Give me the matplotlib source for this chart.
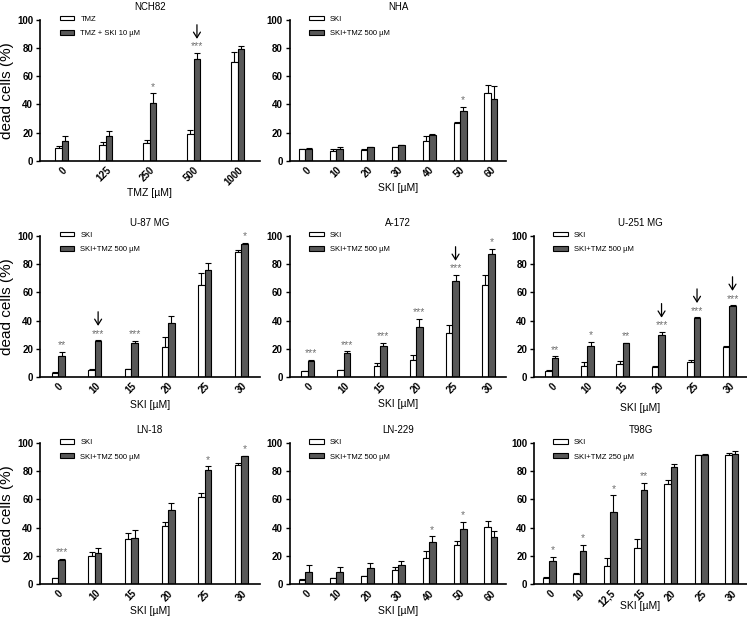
import numpy as np
import matplotlib.pyplot as plt
from matplotlib.patches import Patch

plt.rcParams['font.family'] = ['Liberation Sans', 'DejaVu Sans']

# NCH82
nch82_x = ['0', '125', '250', '500', '1000']
nch82_a = [9.2, 11, 12.8, 19, 70.4]
nch82_a_err = [1.5, 2.5, 2, 3, 7]
nch82_b = [14, 18, 41, 72, 79.4]
nch82_b_err = [4, 3.5, 7, 4.5, 2]
nch82_sig = ['', '', '*', '***', '']
nch82_arrows = [3]

# NHA
nha_x = ['0', '10', '20', '30', '40', '50', '60']
nha_a = [8.4, 7.2, 7.9, 9.6, 14.4, 27, 47.8]
nha_a_err = [0.3, 1.5, 0.5, 0.5, 3, 0.3, 6]
nha_b = [8.6, 8.6, 9.6, 11, 18.7, 35.4, 43.8]
nha_b_err = [0.3, 1.5, 0.5, 0.3, 0.5, 3, 9]
nha_sig = ['', '', '', '', '', '*', '']
nha_arrows = []

# U-87 MG
u87_x = ['0', '10', '15', '20', '25', '30']
u87_a = [3.1, 5.2, 5.5, 21, 65.5, 88.6]
u87_a_err = [0.3, 0.3, 0.3, 7, 8, 1.5]
u87_b = [14.8, 25.7, 23.8, 38, 75.7, 94.5]
u87_b_err = [3, 0.5, 2, 5, 5, 0.5]
u87_sig = ['**', '***', '***', '', '', '*']
u87_arrows = [1]

# A-172
a172_x = ['0', '10', '15', '20', '25', '30']
a172_a = [4, 4.8, 7.6, 11.9, 31, 65.2]
a172_a_err = [0.3, 0.3, 2, 4, 6, 7]
a172_b = [11.2, 16.7, 21.9, 35.2, 68.3, 87]
a172_b_err = [1, 1.5, 2.5, 6, 4, 4]
a172_sig = ['***', '***', '***', '***', '***', '*']
a172_arrows = [4]

# U-251 MG
u251_x = ['0', '10', '15', '20', '25', '30']
u251_a = [4.3, 7.6, 9, 7.4, 10.7, 21.4]
u251_a_err = [0.5, 3, 2.5, 0.5, 1.5, 0.5]
u251_b = [13.1, 22.1, 24, 30, 42.1, 50]
u251_b_err = [1.5, 3, 0.3, 2, 0.3, 1]
u251_sig = ['**', '*', '**', '***', '***', '***']
u251_arrows = [3, 4, 5]

# LN-18
ln18_x = ['0', '10', '15', '20', '25', '30']
ln18_a = [4, 20.1, 32, 41, 61.6, 84.6]
ln18_a_err = [0.5, 2.5, 4.5, 3, 3, 1.5]
ln18_b = [17.3, 21.8, 32.5, 52.1, 80.6, 90.5]
ln18_b_err = [0.5, 3.5, 5.5, 5, 3, 0.5]
ln18_sig = ['***', '', '', '', '*', '*']
ln18_arrows = []

# LN-229
ln229_x = ['0', '10', '20', '30', '40', '50', '60']
ln229_a = [3.1, 4, 5.5, 10.2, 18.6, 27.9, 40.5]
ln229_a_err = [0.5, 0.3, 0.3, 1.7, 4.8, 2.4, 4]
ln229_b = [8.8, 8.3, 11.2, 13.6, 29.8, 38.8, 33.3]
ln229_b_err = [4.8, 4, 3.8, 3, 4, 5.2, 4.3]
ln229_sig = ['', '', '', '', '*', '*', '']
ln229_arrows = []

# T98G
t98g_x = ['0', '10', '12,5', '15', '20', '25', '30']
t98g_a = [4.5, 6.9, 13, 25.4, 71.1, 91.2, 91.5]
t98g_a_err = [0.5, 1.2, 5.2, 6.6, 2.8, 0.5, 1.4]
t98g_b = [16.4, 23.7, 51, 66.8, 82.7, 91.7, 92.2]
t98g_b_err = [3, 4, 11.8, 4.8, 2.6, 0.5, 1.8]
t98g_sig = ['*', '*', '*', '**', '', '', '']
t98g_arrows = []

W, H = 747, 619
fig = plt.figure(figsize=(W / 100, H / 100), dpi=100)

dark = '#585858'


def panel(rect, title, xs, a, a_err, b, b_err, sig, arrows, labels, xlabel, ylabel, xlab_off):
    ax = fig.add_axes(rect)
    n = len(xs)
    pos = np.arange(n)
    unit_px = rect[2] * W / n
    w = 6.5 / unit_px
    ax.bar(pos - w / 2, a, w, color='white', edgecolor='black', linewidth=0.8, zorder=2)
    ax.bar(pos + w / 2, b, w, color=dark, edgecolor='black', linewidth=0.8, zorder=2)
    ax.errorbar(pos - w / 2, a, yerr=[np.zeros(n), a_err], fmt='none', ecolor='black',
                elinewidth=0.8, capsize=2, capthick=0.8, zorder=1)
    ax.errorbar(pos + w / 2, b, yerr=[np.zeros(n), b_err], fmt='none', ecolor='black',
                elinewidth=0.8, capsize=2, capthick=0.8, zorder=1)
    for i, s in enumerate(sig):
        top = b[i] + b_err[i]
        if s:
            ax.text(pos[i] + w / 2, top + 1.0, s, ha='center', va='bottom', fontsize=7.5,
                    color='#707070', clip_on=False)
        if i in arrows:
            ax.annotate('', xy=(pos[i] + w / 2, top + 10), xytext=(pos[i] + w / 2, top + 20),
                        arrowprops=dict(arrowstyle='->,head_length=0.4,head_width=0.25',
                                        color='black', lw=0.9, shrinkA=0, shrinkB=0),
                        annotation_clip=False)

    ax.set_xlim(-0.5, n - 0.5)
    ax.set_ylim(0, 100)
    ax.set_yticks([0, 20, 40, 60, 80, 100])
    ax.set_xticks(pos)
    ax.set_xticklabels(xs, rotation=45, ha='right', va='top', rotation_mode='anchor',
                       fontsize=7, fontweight='bold')
    for t in ax.get_yticklabels():
        t.set_fontsize(7)
        t.set_fontweight('bold')
    ax.tick_params(axis='y', direction='out', length=3, width=1, pad=2)
    ax.tick_params(axis='x', length=0, pad=3)
    for s in ['top', 'right']:
        ax.spines[s].set_visible(False)
    for s in ['left', 'bottom']:
        ax.spines[s].set_linewidth(1.2)
    ax.set_title(title, fontsize=7, pad=7)
    ax.set_xlabel(xlabel, fontsize=7.5, va='center')
    ax.xaxis.set_label_coords(0.5, -xlab_off / (rect[3] * H))
    if ylabel:
        ax.set_ylabel('dead cells (%)', fontsize=11, labelpad=2)
    handles = [Patch(facecolor='white', edgecolor='black', linewidth=0.8),
               Patch(facecolor=dark, edgecolor='black', linewidth=0.8)]
    ax.legend(handles, labels, loc='upper left', bbox_to_anchor=(0.09, 1.03), frameon=False,
              fontsize=5.5, handlelength=1.9, handleheight=0.6, handletextpad=0.8,
              labelspacing=1.0, borderpad=0, borderaxespad=0)
    return ax


h = 0.228
rows = [0.740, 0.391, 0.0565]
cols = [(0.0535, 0.294), (0.388, 0.29), (0.715, 0.285)]

lab_std = ['SKI', 'SKI+TMZ 500 µM']

panel([cols[0][0], rows[0], cols[0][1], h], 'NCH82', nch82_x, nch82_a, nch82_a_err,
      nch82_b, nch82_b_err, nch82_sig, nch82_arrows, ['TMZ', 'TMZ + SKI 10 µM'],
      'TMZ [µM]', True, 32)
panel([cols[1][0], rows[0], cols[1][1], h], 'NHA', nha_x, nha_a, nha_a_err,
      nha_b, nha_b_err, nha_sig, nha_arrows, lab_std, 'SKI [µM]', False, 27)
panel([cols[0][0], rows[1], cols[0][1], h], 'U-87 MG', u87_x, u87_a, u87_a_err,
      u87_b, u87_b_err, u87_sig, u87_arrows, lab_std, 'SKI [µM]', True, 28)
panel([cols[1][0], rows[1], cols[1][1], h], 'A-172', a172_x, a172_a, a172_a_err,
      a172_b, a172_b_err, a172_sig, a172_arrows, lab_std, 'SKI [µM]', False, 27)
panel([cols[2][0], rows[1], cols[2][1], h], 'U-251 MG', u251_x, u251_a, u251_a_err,
      u251_b, u251_b_err, u251_sig, u251_arrows, lab_std, 'SKI [µM]', False, 31)
panel([cols[0][0], rows[2], cols[0][1], h], 'LN-18', ln18_x, ln18_a, ln18_a_err,
      ln18_b, ln18_b_err, ln18_sig, ln18_arrows, lab_std, 'SKI [µM]', True, 27)
panel([cols[1][0], rows[2], cols[1][1], h], 'LN-229', ln229_x, ln229_a, ln229_a_err,
      ln229_b, ln229_b_err, ln229_sig, ln229_arrows, lab_std, 'SKI [µM]', False, 27)
panel([cols[2][0], rows[2], cols[2][1], h], 'T98G', t98g_x, t98g_a, t98g_a_err,
      t98g_b, t98g_b_err, t98g_sig, t98g_arrows, ['SKI', 'SKI+TMZ 250 µM'], 'SKI [µM]',
      False, 22)

fig.savefig('out.png', dpi=100)
